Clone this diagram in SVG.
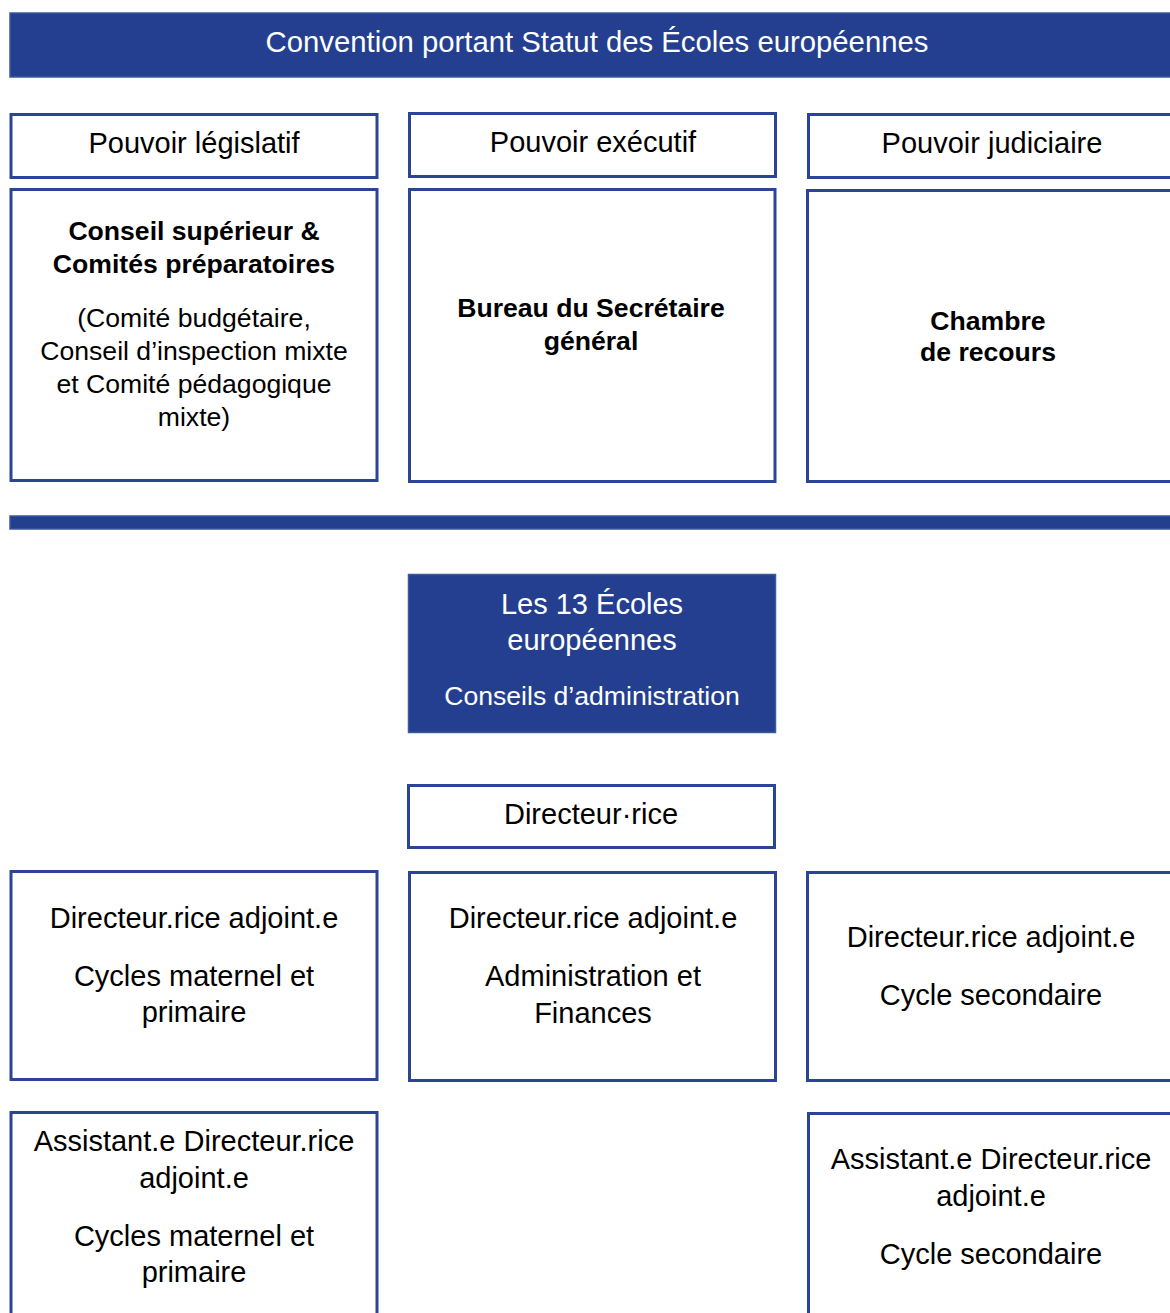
<svg xmlns="http://www.w3.org/2000/svg" width="1170" height="1313" viewBox="0 0 1170 1313">
<style>
.box{fill:#fff;stroke:#2B4596;stroke-width:3}
.blue{fill:#243F8F;stroke:#3A5A9E;stroke-width:1.5}
.t{font-family:"Liberation Sans",Arial,sans-serif;font-size:29px;fill:#000;text-anchor:middle}
.s{font-size:26.6px}
.h{font-size:29.3px}
.b{font-family:"Liberation Sans",Arial,sans-serif;font-size:26.6px;font-weight:bold;fill:#000;text-anchor:middle}
.w{fill:#fff}
</style>
<rect width="1170" height="1313" fill="#fff"/>
<g id="banner">
<rect class="blue" x="10" y="13" width="1175" height="64"/>
<text class="t w h" x="597" y="52">Convention portant Statut des Écoles européennes</text>
</g>
<g id="legislatif">
<rect class="box" x="11" y="114.5" width="366" height="63"/>
<text class="t" x="194" y="153">Pouvoir législatif</text>
</g>
<g id="executif">
<rect class="box" x="409.5" y="113.5" width="366" height="63"/>
<text class="t" x="593" y="152">Pouvoir exécutif</text>
</g>
<g id="judiciaire">
<rect class="box" x="808.5" y="114.5" width="380" height="63"/>
<text class="t" x="992" y="153">Pouvoir judiciaire</text>
</g>
<g id="conseil">
<rect class="box" x="11" y="189.5" width="366" height="291"/>
<text class="b" x="194" y="240">Conseil supérieur &amp;</text>
<text class="b" x="194" y="273">Comités préparatoires</text>
<text class="t s" x="194" y="327">(Comité budgétaire,</text>
<text class="t s" x="194" y="360">Conseil d’inspection mixte</text>
<text class="t s" x="194" y="393">et Comité pédagogique</text>
<text class="t s" x="194" y="426">mixte)</text>
</g>
<g id="bureau">
<rect class="box" x="409.5" y="189.5" width="365.5" height="292"/>
<text class="b" x="591" y="317">Bureau du Secrétaire</text>
<text class="b" x="591" y="350">général</text>
</g>
<g id="chambre">
<rect class="box" x="807.5" y="190.5" width="380" height="291"/>
<text class="b" x="988" y="330">Chambre</text>
<text class="b" x="988" y="361">de recours</text>
</g>
<g id="separator">
<rect class="blue" x="10" y="516" width="1175" height="13"/>
</g>
<g id="ecoles">
<rect class="blue" x="408.5" y="574.5" width="367" height="158"/>
<text class="t w" x="592" y="614">Les 13 Écoles</text>
<text class="t w" x="592" y="650">européennes</text>
<text class="t w s" x="592" y="705">Conseils d’administration</text>
</g>
<g id="directeur">
<rect class="box" x="408.5" y="785.5" width="366" height="62"/>
<text class="t" x="591" y="824">Directeur·rice</text>
</g>
<g id="adj-primaire">
<rect class="box" x="11" y="871.5" width="366" height="208"/>
<text class="t" x="194" y="928">Directeur.rice adjoint.e</text>
<text class="t" x="194" y="986">Cycles maternel et</text>
<text class="t" x="194" y="1022">primaire</text>
</g>
<g id="adj-admin">
<rect class="box" x="409.5" y="872.5" width="366" height="208"/>
<text class="t" x="593" y="928">Directeur.rice adjoint.e</text>
<text class="t" x="593" y="986">Administration et</text>
<text class="t" x="593" y="1023">Finances</text>
</g>
<g id="adj-secondaire">
<rect class="box" x="807.5" y="872.5" width="380" height="208"/>
<text class="t" x="991" y="947">Directeur.rice adjoint.e</text>
<text class="t" x="991" y="1005">Cycle secondaire</text>
</g>
<g id="assist-primaire">
<rect class="box" x="11" y="1112.5" width="366" height="220"/>
<text class="t" x="194" y="1151">Assistant.e Directeur.rice</text>
<text class="t" x="194" y="1188">adjoint.e</text>
<text class="t" x="194" y="1246">Cycles maternel et</text>
<text class="t" x="194" y="1282">primaire</text>
</g>
<g id="assist-secondaire">
<rect class="box" x="808.5" y="1113.5" width="380" height="220"/>
<text class="t" x="991" y="1169">Assistant.e Directeur.rice</text>
<text class="t" x="991" y="1206">adjoint.e</text>
<text class="t" x="991" y="1264">Cycle secondaire</text>
</g>
<g id="connectors"/>
</svg>
